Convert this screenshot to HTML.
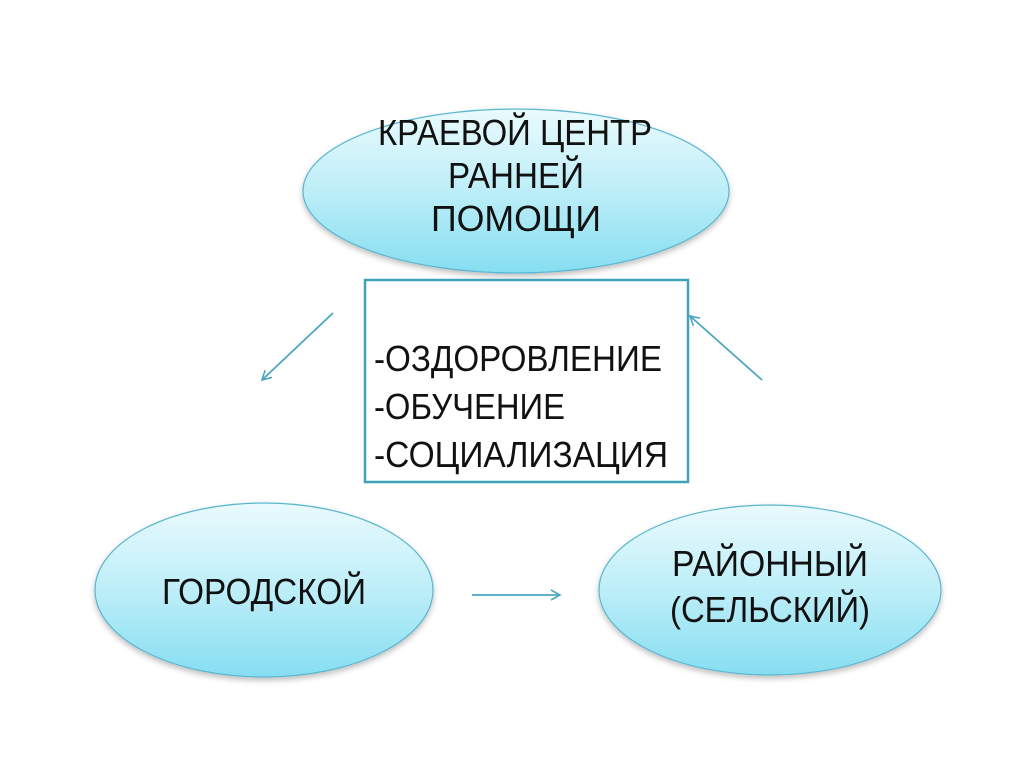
<!DOCTYPE html>
<html><head><meta charset="utf-8"><style>html,body{margin:0;padding:0;background:#fff}</style></head>
<body>
<svg width="1024" height="767" viewBox="0 0 1024 767" xmlns="http://www.w3.org/2000/svg">
<defs>
<linearGradient id="g" x1="0" y1="0" x2="0" y2="1">
<stop offset="0" stop-color="#eafafd"/><stop offset="0.5" stop-color="#bdeef8"/><stop offset="1" stop-color="#86def1"/>
</linearGradient>
<filter id="s" x="-10%" y="-10%" width="120%" height="130%"><feDropShadow dx="0" dy="3" stdDeviation="3" flood-color="#000" flood-opacity="0.25"/></filter>
<marker id="a" markerWidth="12" markerHeight="12" refX="10" refY="6" orient="auto" markerUnits="userSpaceOnUse">
<path d="M1,1 L10,6 L1,11" fill="none" stroke="#4aa7be" stroke-width="1.6"/></marker>
</defs>
<g fill="url(#g)" stroke="#5ab6cf" stroke-width="1.2" filter="url(#s)">
<ellipse cx="516" cy="191" rx="213" ry="82"/>
<ellipse cx="264" cy="590" rx="169" ry="87"/>
<ellipse cx="770" cy="590" rx="171" ry="85"/>
</g>
<rect x="365" y="280" width="323" height="202" fill="#fff" stroke="#3ea3b9" stroke-width="2.5"/>
<g stroke="#4aa7be" stroke-width="1.8" marker-end="url(#a)">
<line x1="333" y1="313" x2="262" y2="380"/>
<line x1="762" y1="380" x2="690" y2="316"/>
<line x1="472" y1="595" x2="560" y2="595"/>
</g>
<g font-family="Liberation Sans, DejaVu Sans, sans-serif" font-size="36" fill="#111">
<text x="378" y="145" textLength="274" lengthAdjust="spacingAndGlyphs">КРАЕВОЙ ЦЕНТР</text>
<text x="448" y="188" textLength="136" lengthAdjust="spacingAndGlyphs">РАННЕЙ</text>
<text x="431" y="231" textLength="170" lengthAdjust="spacingAndGlyphs">ПОМОЩИ</text>
<text x="162" y="604" textLength="204" lengthAdjust="spacingAndGlyphs">ГОРОДСКОЙ</text>
<text x="672" y="576" textLength="196" lengthAdjust="spacingAndGlyphs">РАЙОННЫЙ</text>
<text x="670" y="622" textLength="200" lengthAdjust="spacingAndGlyphs">(СЕЛЬСКИЙ)</text>
<text x="374" y="371" textLength="288" lengthAdjust="spacingAndGlyphs">-ОЗДОРОВЛЕНИЕ</text>
<text x="374" y="419" textLength="191" lengthAdjust="spacingAndGlyphs">-ОБУЧЕНИЕ</text>
<text x="374" y="467" textLength="294" lengthAdjust="spacingAndGlyphs">-СОЦИАЛИЗАЦИЯ</text>
</g>
</svg>
</body></html>
